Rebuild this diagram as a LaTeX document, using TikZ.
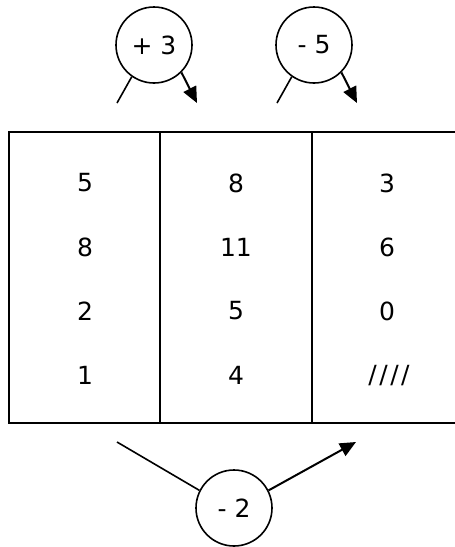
\documentclass[tikz,border=0pt]{standalone}
\usepackage{fontspec}
\setmainfont{DejaVu Sans}
\usetikzlibrary{arrows.meta}
\tikzset{op/.style={circle,draw,line width=1.6pt,minimum size=76pt,inner sep=0pt,font=\fontsize{25}{29}\selectfont},
		cell/.style={font=\fontsize{25}{29}\selectfont},
		grid/.style={line width=2.5pt},
		edgeT/.style={line width=1.6pt},
		DedgeT/.style={-{Triangle[length=16pt,width=14pt]},line width=2pt}}

\begin{document}
\begin{tikzpicture}[x=1pt,y=-1pt]
		\useasboundingbox (0,0) rectangle (455,547);
		%table
		\draw[grid] (9,132) rectangle (464,423);
		\draw[grid] (160,132) -- (160,423);
		\draw[grid] (312,132) -- (312,423);

		\node at (85,183) [cell] (a1){5};
		\node at (85,247) [cell] (a2){8};
		\node at (85,311) [cell] (a3){2};
		\node at (85,375) [cell] (a4){1};
		\node at (236,183) [cell] (b1){8};
		\node at (236,247) [cell] (b2){11};
		\node at (236,311) [cell] (b3){5};
		\node at (236,375) [cell] (b4){4};
		\node at (387,183) [cell] (c1){3};
		\node at (387,247) [cell] (c2){6};
		\node at (387,311) [cell] (c3){0};
		\node at (389,376) [cell] (c4){/\kern2.5pt/\kern2.5pt/\kern2.5pt/};

		%operations
		\node at (154,45) [op] (plus){+ 3};
		\node at (314,45) [op] (minus){- 5};
		\node at (234,508) [op] (back){- 2};

		\coordinate (plusIn) at (117,103);
		\coordinate (plusOut) at (197,103);
		\coordinate (minusIn) at (277,103);
		\coordinate (minusOut) at (357,103);
		\coordinate (backIn) at (117,442);
		\coordinate (backOut) at (356,442);

		\draw[edgeT] (plusIn) -- (plus.235);
		\draw[DedgeT] (plus.315) -- (plusOut);
		\draw[edgeT] (minusIn) -- (minus.235);
		\draw[DedgeT] (minus.315) -- (minusOut);
		\draw[edgeT] (backIn) -- (back.153);
		\draw[DedgeT] (back.27) -- (backOut);
	\end{tikzpicture}
\end{document}
